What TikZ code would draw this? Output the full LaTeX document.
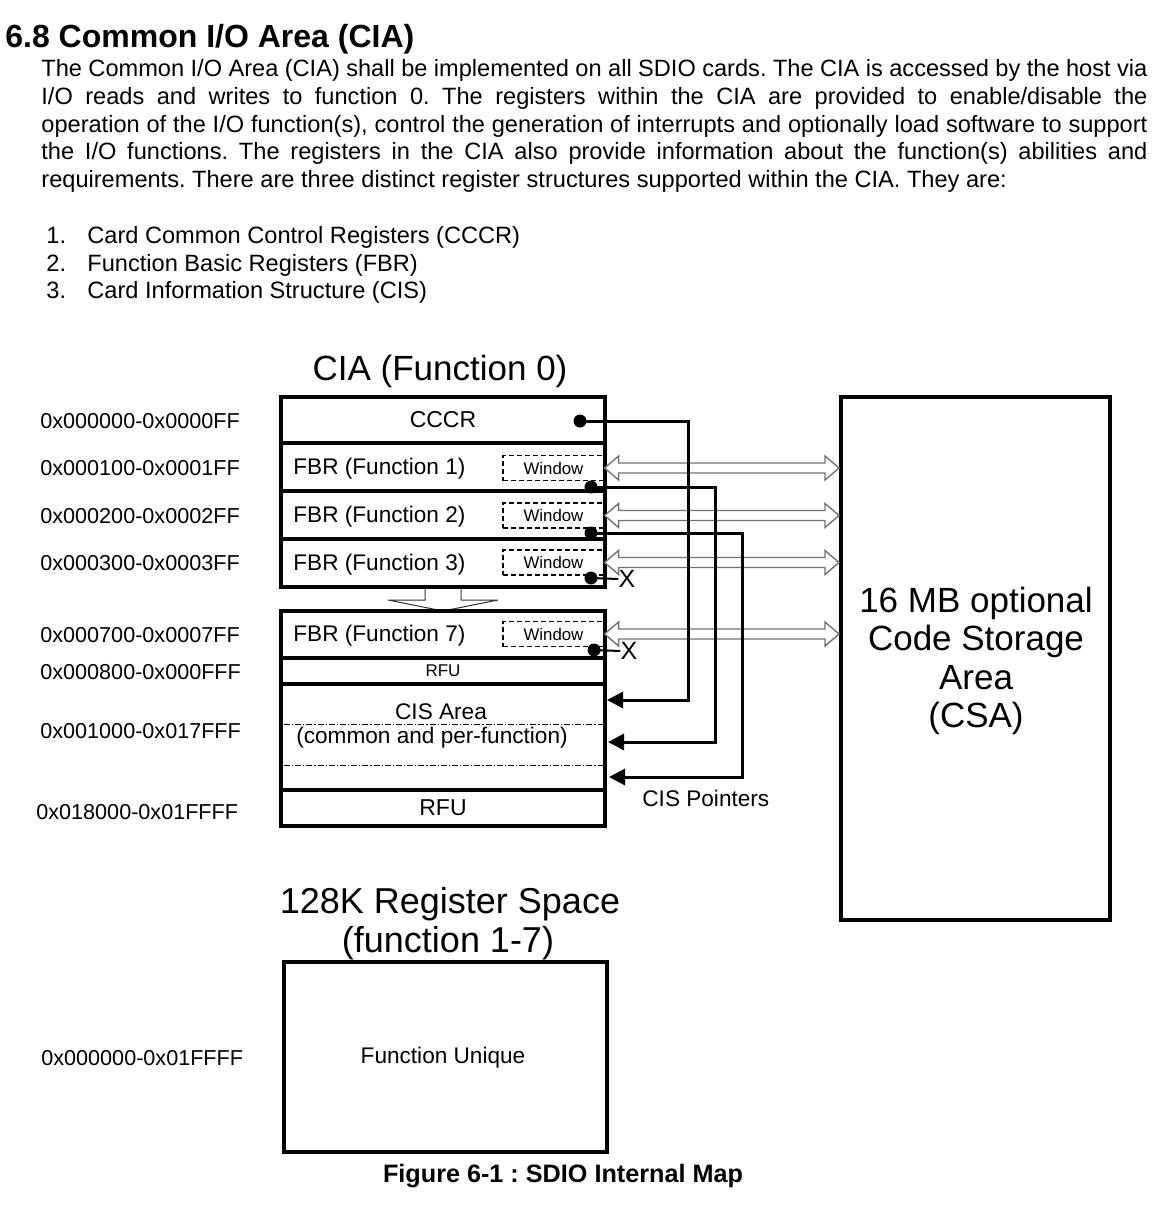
\documentclass[tikz,border=0pt]{standalone}
\usepackage{fontspec}
\setmainfont{Liberation Sans}
\usetikzlibrary{arrows.meta,calc}
\begin{document}
\frenchspacing
\begin{tikzpicture}[x=0.5pt,y=-0.5pt,
  para/.style={anchor=base west, inner sep=0pt, font=\fontsize{11.8}{13}\selectfont},
  addr/.style={anchor=west, inner sep=0pt, font=\fontsize{10.8}{13}\selectfont},
  cell/.style={draw, line width=2pt, minimum width=162pt, inner sep=0pt, font=\fontsize{11.5}{13}\selectfont},
  lbl/.style={inner sep=0pt, font=\fontsize{11.3}{13}\selectfont},
  win/.style={draw, line width=0.6pt, dash pattern=on 2.5pt off 1.5pt, minimum width=50.5pt, minimum height=12.5pt, inner sep=0pt, font=\fontsize{8.4}{10}\selectfont},
  dotn/.style={circle, fill=black, inner sep=0pt, minimum size=6.5pt},
  wire/.style={line width=1.5pt},
  tipA/.style={-{Triangle[length=8pt,width=8pt]}},
  dbl/.style={draw=black!55, fill=white, line width=0.7pt},
  dashdot/.style={line width=0.45pt, dash pattern=on 3pt off 1pt on 0.6pt off 1pt},
  xmark/.style={inner sep=0pt, font=\fontsize{12.5}{14}\selectfont},
  big/.style={inner sep=0pt, font=\fontsize{17.5}{19.25}\selectfont}
]
\useasboundingbox (0,0) rectangle (1170,1225);

% ---------- text ----------
\node[anchor=base west, inner sep=0pt, font=\bfseries\fontsize{16}{19}\selectfont] (head) at (5,48) {6.8 Common I/O Area (CIA)};
\node[para] (p1) at (41,77) {\makebox[553pt][s]{The Common I/O Area (CIA) shall be implemented on all SDIO cards. The CIA is accessed by the host via}};
\node[para] (p2) at (41,105) {\makebox[553pt][s]{I/O reads and writes to function 0. The registers within the CIA are provided to enable/disable the}};
\node[para] (p3) at (41,133) {\makebox[553pt][s]{operation of the I/O function(s), control the generation of interrupts and optionally load software to support}};
\node[para] (p4) at (41,160) {\makebox[553pt][s]{the I/O functions. The registers in the CIA also provide information about the function(s) abilities and}};
\node[para] (p5) at (41,188) {requirements. There are three distinct register structures supported within the CIA. They are:};

\node[para] (n1) at (46,243) {1.};
\node[para] (l1) at (87,243) {Card Common Control Registers (CCCR)};
\node[para] (n2) at (46,271) {2.};
\node[para] (l2) at (87,271) {Function Basic Registers (FBR)};
\node[para] (n3) at (46,299) {3.};
\node[para] (l3) at (87,299) {Card Information Structure (CIS)};

% ---------- titles ----------
\node[big, anchor=base] (ciatitle) at (440,380) {CIA (Function 0)};
\node[big, anchor=base, font=\fontsize{18}{20}\selectfont] (rs1) at (450,913) {128K Register Space};
\node[big, anchor=base, font=\fontsize{18}{20}\selectfont] (rs2) at (448,952) {(function 1-7)};
\node[anchor=base, inner sep=0pt, font=\bfseries\fontsize{12.6}{15}\selectfont] (cap) at (563,1182) {Figure 6-1 : SDIO Internal Map};

% ---------- address labels ----------
\node[addr] (a0) at (40,421) {0x000000-0x0000FF};
\node[addr] (a1) at (40,468) {0x000100-0x0001FF};
\node[addr] (a2) at (40,516) {0x000200-0x0002FF};
\node[addr] (a3) at (40,563) {0x000300-0x0003FF};
\node[addr] (a7) at (40,635) {0x000700-0x0007FF};
\node[addr] (a8) at (40,672) {0x000800-0x000FFF};
\node[addr] (a9) at (40,731) {0x001000-0x017FFF};
\node[addr] (a10) at (36,812) {0x018000-0x01FFFF};
\node[addr] (a11) at (41,1058) {0x000000-0x01FFFF};

% ---------- CIA box 1 ----------
\node[cell, minimum height=23pt] (cccr) at (443,420) {CCCR};
\node[cell, minimum height=24pt] (fbr1) at (443,467) {};
\node[cell, minimum height=24pt] (fbr2) at (443,515) {};
\node[cell, minimum height=24pt] (fbr3) at (443,563) {};
\node[lbl, anchor=west] (tf1) at (293,469) {FBR (Function 1)};
\node[lbl, anchor=west] (tf2) at (293,517) {FBR (Function 2)};
\node[lbl, anchor=west] (tf3) at (293,565) {FBR (Function 3)};
\node[win] (w1) at (553.5,468) {Window};
\node[win] (w2) at (553.5,515.5) {Window};
\node[win] (w3) at (553.5,562.5) {Window};

% block arrow between the two parts
\draw[line width=0.5pt, draw=black!80] (425,589) -- (425,600) -- (388,600) -- (443,611) -- (498,600) -- (461,600) -- (461,589);

% ---------- CIA box 2 ----------
\node[cell, minimum height=23.5pt] (fbr7) at (443,634.5) {};
\node[cell, minimum height=13pt, font=\fontsize{8.5}{10}\selectfont] (rfu1) at (443,671) {RFU};
\node[cell, minimum height=53pt] (cis) at (443,737) {};
\node[cell, minimum height=18pt] (rfu2) at (443,808) {RFU};
\node[lbl, anchor=west] (tf7) at (293,636) {FBR (Function 7)};
\node[win] (w7) at (553.5,634) {Window};
\node[lbl] (cist) at (441,712) {CIS Area};
\node[lbl] (cisd) at (432,738) {(common and per-function)};
\draw[dashdot] (284,724) -- (603,724);
\draw[dashdot] (284,765) -- (603,765);

% ---------- CSA ----------
\node[draw, line width=2pt, minimum width=134.5pt, minimum height=261.5pt, inner sep=0pt] (csa) at (975.5,658.5) {};
\node[big, align=center] (csat) at (976,661) {16 MB optional\\Code Storage\\Area\\(CSA)};

% ---------- double arrows window <-> CSA ----------
\foreach \w in {w1,w2,w3,w7}{
  \coordinate (L\w) at (\w.east);
  \coordinate (R\w) at (csa.west |- \w.east);
  \draw[dbl] (L\w) -- ++(14,-12) -- ++(0,7) -- ($(R\w)+(-14,-5)$) -- ++(0,-7) -- (R\w)
     -- ++(-14,12) -- ++(0,-7) -- ($(L\w)+(14,5)$) -- ++(0,7) -- cycle;
}

% ---------- pointers ----------
\node[dotn] (d0) at (580,421) {};
\node[dotn] (d1) at (591,487) {};
\node[dotn] (d2) at (591,533) {};
\node[dotn] (d3) at (591,578) {};
\node[dotn] (d7) at (594,650) {};
\coordinate (t0) at (607,700);
\coordinate (t1) at (608,742);
\coordinate (t2) at (609,777);
\draw[wire,tipA] (d0.center) -| ($(t0)+(81,0)$) -- (t0);
\draw[wire,tipA] (d1.center) -| ($(t1)+(107,0)$) -- (t1);
\draw[wire,tipA] (d2.center) -| ($(t2)+(133,0)$) -- (t2);
\node[xmark] (x3) at (627,579) {X};
\node[xmark] (x7) at (629,651) {X};
\draw[line width=1pt] (d3.center) -- (x3.west);
\draw[line width=1pt] (d7.center) -- (x7.west);
\node[lbl, anchor=west] (cisp) at (642,798) {CIS Pointers};

% ---------- 128K register space ----------
\node[draw, line width=2pt, minimum width=161.5pt, minimum height=95pt, inner sep=0pt] (fu) at (445.5,1057) {};
\node[lbl] (fut) at (443,1058) {Function Unique};
\end{tikzpicture}
\end{document}
